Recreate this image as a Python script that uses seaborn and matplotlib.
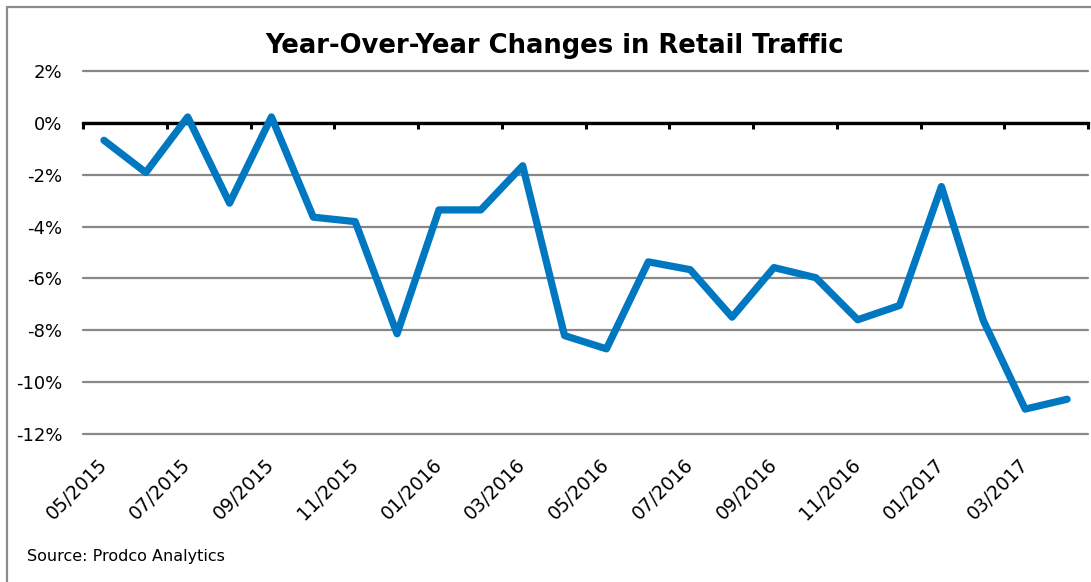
import numpy as np
import pandas as pd
import matplotlib
matplotlib.use("Agg")
import matplotlib.pyplot as plt
from matplotlib.lines import Line2D
import seaborn as sns

months = ["05/2015", "06/2015", "07/2015", "08/2015", "09/2015", "10/2015",
          "11/2015", "12/2015", "01/2016", "02/2016", "03/2016", "04/2016",
          "05/2016", "06/2016", "07/2016", "08/2016", "09/2016", "10/2016",
          "11/2016", "12/2016", "01/2017", "02/2017", "03/2017", "04/2017"]
yoy_change = [-0.68, -1.92, 0.22, -3.10, 0.22, -3.64,
              -3.81, -8.13, -3.36, -3.36, -1.66, -8.20,
              -8.71, -5.36, -5.66, -7.49, -5.58, -5.97,
              -7.59, -7.04, -2.46, -7.62, -11.03, -10.65]
y_ticks = [2, 0, -2, -4, -6, -8, -10, -12]
title = "Year-Over-Year Changes in Retail Traffic"
source = "Source: Prodco Analytics"

sns.set_theme(style="white")
plt.rcParams["font.family"] = ["DejaVu Sans"]

df = pd.DataFrame({"idx": np.arange(len(months)), "month": months, "yoy": yoy_change})

fig = plt.figure(figsize=(10.91, 5.82), dpi=100)
ax = fig.add_axes([83 / 1091, 1 - 434.3 / 582, (1088 - 83) / 1091, (434.3 - 70.7) / 582])

sns.lineplot(data=df, x="idx", y="yoy", ax=ax, color="#0077C1", linewidth=5.2,
             solid_capstyle="round", solid_joinstyle="round", zorder=5)

ax.set_xlim(-0.5, len(months) - 0.5)
ax.set_ylim(min(y_ticks), max(y_ticks))
ax.set_yticks(y_ticks)
ax.set_yticklabels([f"{v}%" for v in y_ticks])
ax.yaxis.grid(True, color="#878787", linewidth=1.6)
for gl in ax.get_ygridlines():
    gl.set_clip_on(False)
ax.xaxis.grid(False)
ax.set_axisbelow(True)
ax.set_xlabel("")
ax.set_ylabel("")
ax.tick_params(axis="y", length=0, pad=15, labelsize=13, labelcolor="black")

for s in ["left", "right", "top"]:
    ax.spines[s].set_visible(False)
ax.spines["bottom"].set_position(("data", 0))
ax.spines["bottom"].set_color("black")
ax.spines["bottom"].set_linewidth(2.4)
ax.spines["bottom"].set_zorder(4)

# category boundary ticks on the zero line
ax.set_xticks(np.arange(-0.5, len(months), 2))
ax.tick_params(axis="x", which="major", direction="out", length=4.5, width=2.2,
               color="black", labelbottom=False, bottom=True)

# labels at the bottom of the plot area
sec = ax.secondary_xaxis(0)
sec.set_xticks(df["idx"][::2], labels=months[::2])
sec.spines["bottom"].set_visible(False)
sec.tick_params(axis="x", length=0, pad=20, labelsize=13.5, labelcolor="black")
for lab in sec.get_xticklabels():
    lab.set_rotation(45)
    lab.set_ha("right")
    lab.set_va("center")
    lab.set_rotation_mode("anchor")

fig.text(555 / 1091, 1 - 46 / 582, title, ha="center", va="center",
         fontsize=18.6, fontweight="bold", color="black")
fig.text(27 / 1091, 1 - 557 / 582, source, ha="left", va="center",
         fontsize=11.5, color="black")

fig.add_artist(Line2D([7 / 1091, 7 / 1091], [0, 1 - 7 / 582], transform=fig.transFigure,
                      color="#8c8c8c", linewidth=1.6))
fig.add_artist(Line2D([7 / 1091, 1], [1 - 7 / 582, 1 - 7 / 582], transform=fig.transFigure,
                      color="#8c8c8c", linewidth=1.6))

fig.savefig("out.png", dpi=100)
